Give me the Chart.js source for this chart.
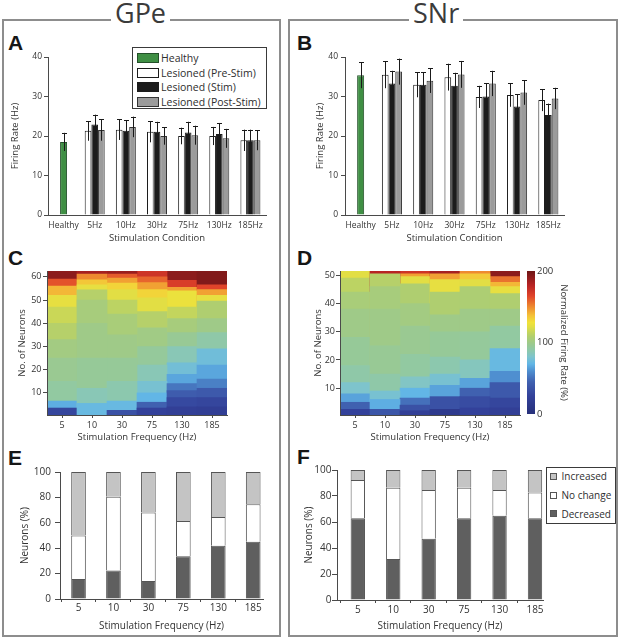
<!DOCTYPE html>
<html>
<head>
<meta charset="utf-8">
<title>GPe / SNr firing rates</title>
<script src="https://cdn.jsdelivr.net/npm/chart.js@4.4.1/dist/chart.umd.min.js"></script>
<style>
  html,body{margin:0;padding:0;background:#fff;}
  body{position:relative;width:619px;height:639px;overflow:hidden;font-family:"Open Sans",sans-serif;color:#333;}
  .frame{position:absolute;border:2px solid #8d8d8d;box-sizing:border-box;}
  .ttl{position:absolute;font-size:27px;line-height:1;background:#fff;padding:0 4px;color:#3b3b3b;white-space:nowrap;}
  .let{position:absolute;font-family:"Liberation Sans",Arial,sans-serif;font-weight:bold;font-size:21px;line-height:1;color:#161616;}
  canvas{position:absolute;}
  .lg{position:absolute;border:1px solid #3a3a3a;background:#fff;box-sizing:border-box;color:#2e2e2e;}
  .lg .row{position:absolute;left:0;right:0;white-space:nowrap;}
  .lg .sw{position:absolute;box-sizing:border-box;}
  .lg .tx{position:absolute;}
</style>
</head>
<body>
<div class="frame" style="left:2px;top:19px;width:279px;height:618px"></div>
<div class="frame" style="left:288px;top:19px;width:330px;height:618px"></div>
<div class="ttl" style="left:111px;top:-1px">GPe</div>
<div class="ttl" style="left:409px;top:-1px">SNr</div>
<div class="let" style="left:8px;top:32px">A</div>
<div class="let" style="left:297px;top:32px">B</div>
<div class="let" style="left:8px;top:247px">C</div>
<div class="let" style="left:297px;top:247px">D</div>
<div class="let" style="left:8px;top:447px">E</div>
<div class="let" style="left:297px;top:446px">F</div>
<div class="lg" id="legA" style="left:132px;top:47px;width:135px;height:62px;font-size:10.5px"></div>
<div class="lg" id="legF" style="left:546px;top:467px;width:70px;height:57px;font-size:10px"></div>

<script>
// ---------------- DATA ----------------
const conditions = ['Healthy', '5Hz', '10Hz', '30Hz', '75Hz', '130Hz', '185Hz'];
const seriesNames = ['Healthy', 'Lesioned (Pre-Stim)', 'Lesioned (Stim)', 'Lesioned (Post-Stim)'];
const rateTicks = [0, 10, 20, 30, 40];

// GPe firing rate (Hz), mean and error, stimulation groups 5..185 Hz
const gpeHealthy = 18.5, gpeHealthyErr = 2.3;
const gpePre = [21.3, 21.6, 21.1, 20.0, 20.0, 18.9];
const gpePreErr = [2.5, 2.6, 2.7, 2.1, 2.3, 2.7];
const gpeStim = [22.9, 21.3, 21.1, 20.9, 20.5, 18.9];
const gpeStimErr = [2.5, 2.7, 2.5, 2.7, 2.8, 2.7];
const gpePost = [21.5, 22.3, 20.0, 20.2, 19.4, 18.9];
const gpePostErr = [2.7, 2.6, 2.2, 2.4, 2.4, 2.5];

// SNr firing rate (Hz)
const snrHealthy = 35.4, snrHealthyErr = 3.3;
const snrPre = [35.5, 33.0, 34.9, 29.9, 30.4, 29.1];
const snrPreErr = [3.4, 3.2, 3.4, 2.8, 3.0, 2.8];
const snrStim = [33.3, 33.0, 32.7, 30.0, 27.5, 25.3];
const snrStimErr = [3.2, 3.2, 3.3, 3.4, 3.1, 2.9];
const snrPost = [36.3, 34.0, 35.6, 33.3, 31.0, 29.5];
const snrPostErr = [3.3, 3.1, 3.4, 3.2, 3.1, 2.7];

// Heat maps: sorted neurons, bands (upper neuron edge) and normalized firing rate (%) per band
const freqLabels = ['5', '10', '30', '75', '130', '185'];
const gpeNeuronTicks = [10, 20, 30, 40, 50, 60];
const snrNeuronTicks = [10, 20, 30, 40, 50];
const normTicks = [0, 100, 200];

const gpeBandTops = [
  [3.5, 6.5, 15, 25, 33, 40, 47, 52, 56, 59, 62.5],
  [5.5, 12, 25, 40, 50, 54.4, 56.5, 58.7, 61.2, 62.5],
  [2.5, 6.5, 15, 25, 35, 44, 50, 54.5, 57.3, 59.4, 61.2, 62.5],
  [3.5, 6, 10, 15, 22, 30, 38, 45, 51, 54.5, 57.5, 60, 62.5],
  [4, 8, 11, 14, 18, 23, 30, 36, 42, 47, 54, 55.5, 58.5, 62.5],
  [4, 8, 12, 16, 22, 29, 36, 42, 49.5, 52, 54.5, 56.5, 62.5]
];
const gpeBandRates = [
  [28, 68, 92, 97, 102, 110, 116, 124, 140, 162, 192],
  [72, 86, 95, 100, 104, 110, 124, 136, 150, 185],
  [35, 72, 88, 95, 100, 105, 112, 122, 132, 145, 160, 188],
  [25, 45, 70, 78, 86, 94, 101, 110, 122, 132, 145, 158, 172],
  [22, 30, 42, 52, 66, 76, 86, 96, 104, 114, 126, 145, 168, 192],
  [20, 28, 40, 55, 66, 75, 90, 100, 108, 124, 145, 165, 195]
];
const snrBandTops = [
  [2.5, 5, 8, 12, 18, 28, 38, 44, 49, 51.5],
  [2.5, 6, 9, 15, 25, 38, 46, 50.5, 51.5],
  [2, 4, 6.5, 10, 14, 22, 32, 40, 47, 49.5, 50.5, 51.5],
  [2.5, 7, 11, 15, 21, 30, 36, 44, 48.5, 50.5, 51.5],
  [3, 7, 10, 13.5, 20, 30, 38, 46, 48.5, 50.5, 51.5],
  [3, 6.5, 12, 16, 24, 32, 38, 43.5, 46, 47.5, 49.5, 51.5]
];
const snrBandRates = [
  [25, 45, 65, 80, 90, 95, 100, 105, 112, 122],
  [38, 68, 78, 90, 96, 100, 104, 110, 180],
  [22, 35, 50, 70, 82, 92, 97, 102, 108, 122, 145, 172],
  [15, 35, 65, 78, 88, 95, 100, 108, 124, 145, 185],
  [25, 32, 45, 65, 84, 94, 100, 107, 122, 135, 150],
  [22, 28, 40, 60, 72, 92, 100, 108, 124, 140, 155, 192]
];

// Percent of neurons per response class
const responseNames = ['Increased', 'No change', 'Decreased'];
const percentTicks = [0, 20, 40, 60, 80, 100];
const gpeDecreased = [15.8, 22.5, 14.2, 33.7, 42.0, 45.1];
const gpeNoChange = [34.2, 58.1, 53.9, 27.7, 22.5, 29.5];
const gpeIncreased = [50.0, 19.4, 31.9, 38.6, 35.5, 25.4];
const snrDecreased = [62.8, 31.5, 47.2, 62.8, 64.9, 62.8];
const snrNoChange = [29.5, 54.9, 37.4, 23.6, 19.7, 19.8];
const snrIncreased = [7.7, 13.6, 15.4, 13.6, 15.4, 17.4];

// ---------------- STYLE ----------------
const AX = '#4a4a4a';
const TXT = '#333';
const seriesFill = ['#3f8f44', '#ffffff', '#1c1c1c', '#9b9b9b'];
const seriesEdge = ['#24502a', '#1c1c1c', '#1c1c1c', '#333333'];
const responseFill = ['#c4c4c4', '#ffffff', '#5f5f5f'];
const cmapStops = [0, 25, 45, 60, 70, 80, 88, 95, 100, 108, 115, 122, 128, 138, 150, 165, 180, 200];
const cmapColors = ['#27307a', '#33419a', '#4061b0', '#4f8fd0', '#62b6e6', '#7ec4cc', '#8cc8ae', '#96c998', '#9fca88',
  '#afce70', '#c6d65a', '#e2de44', '#f0e23a', '#f4c038', '#ee8a30', '#e0442a', '#b82424', '#6e1616'];

function hex2rgb(h) { return [parseInt(h.slice(1, 3), 16), parseInt(h.slice(3, 5), 16), parseInt(h.slice(5, 7), 16)]; }
function rateColor(v) {
  v = Math.max(0, Math.min(200, v));
  for (let i = 0; i < cmapStops.length - 1; i++) {
    if (v <= cmapStops[i + 1]) {
      const t = (v - cmapStops[i]) / (cmapStops[i + 1] - cmapStops[i]);
      const a = hex2rgb(cmapColors[i]), b = hex2rgb(cmapColors[i + 1]);
      return 'rgb(' + a.map((x, k) => Math.round(x + (b[k] - x) * t)).join(',') + ')';
    }
  }
  return cmapColors[cmapColors.length - 1];
}

Chart.defaults.font.family = '"Open Sans", sans-serif';
Chart.defaults.color = TXT;
Chart.defaults.animation = false;
Chart.defaults.responsive = false;
Chart.defaults.maintainAspectRatio = false;
Chart.defaults.plugins.legend.display = false;
Chart.defaults.plugins.tooltip.enabled = false;

function mkCanvas(left, top, w, h) {
  const c = document.createElement('canvas');
  c.width = w; c.height = h;
  c.style.left = left + 'px'; c.style.top = top + 'px';
  c.style.width = w + 'px'; c.style.height = h + 'px';
  document.body.appendChild(c);
  return c;
}

function yLin(o) {
  return {
    type: 'linear', position: o.position || 'left', min: o.min, max: o.max, stacked: !!o.stacked,
    afterBuildTicks: s => { s.ticks = o.ticks.map(v => ({ value: v })); },
    afterFit: s => { s.width = o.width; },
    border: { display: o.border !== false, color: AX, width: 1, z: 1 },
    grid: { display: true, drawOnChartArea: false, drawTicks: o.tl > 0, tickLength: o.tl, color: AX },
    ticks: { padding: o.pad, color: TXT, font: { size: o.fs } },
    title: { display: true, text: o.title, color: TXT, font: { size: o.tfs }, padding: { top: o.tpad, bottom: 0 } }
  };
}
function xCat(o) {
  return {
    type: 'category', position: 'bottom', offset: true,
    afterFit: s => { s.height = o.height; },
    border: { display: true, color: AX, width: 1, z: 1 },
    grid: { display: true, drawOnChartArea: false, drawTicks: o.tl > 0, tickLength: o.tl, color: AX, offset: false },
    ticks: { padding: o.pad, color: TXT, font: { size: o.fs }, maxRotation: 0, autoSkip: false },
    title: { display: true, text: o.title, color: TXT, font: { size: o.tfs }, padding: { top: 0, bottom: o.tpad } }
  };
}

// error bar plugin (uses the chart's own y scale and bar elements)
const errorBars = {
  id: 'errorBars',
  afterDatasetsDraw(chart) {
    const { ctx } = chart; const ys = chart.scales.y;
    chart.data.datasets.forEach((ds, di) => {
      const meta = chart.getDatasetMeta(di);
      meta.data.forEach((bar, i) => {
        const v = ds.data[i], e = ds.errors ? ds.errors[i] : null;
        if (v == null || e == null) return;
        const x = Math.round(bar.x) + 0.5;
        const top = ys.getPixelForValue(v + e), bot = ys.getPixelForValue(v - e);
        ctx.save();
        ctx.strokeStyle = '#1a1a1a'; ctx.lineWidth = 1;
        ctx.beginPath();
        ctx.moveTo(x, bot); ctx.lineTo(x, top);
        ctx.moveTo(x - 2.5, Math.round(top) + 0.5); ctx.lineTo(x + 2.5, Math.round(top) + 0.5);
        ctx.stroke(); ctx.restore();
      });
    });
  }
};

function rateChart(geom, healthy, healthyErr, pre, preErr, stim, stimErr, post, postErr) {
  const c = mkCanvas(geom.left, geom.top, geom.w, geom.h);
  const series = [
    { v: [healthy, null, null, null, null, null, null], e: [healthyErr, null, null, null, null, null, null] },
    { v: [null].concat(pre), e: [null].concat(preErr) },
    { v: [null].concat(stim), e: [null].concat(stimErr) },
    { v: [null].concat(post), e: [null].concat(postErr) }
  ];
  return new Chart(c, {
    type: 'bar',
    data: {
      labels: conditions,
      datasets: series.map((s, i) => ({
        label: seriesNames[i], data: s.v, errors: s.e,
        backgroundColor: seriesFill[i], borderColor: seriesEdge[i], borderWidth: 1, borderSkipped: 'start',
        skipNull: true, categoryPercentage: 0.642, barPercentage: i === 0 ? 0.35 : 1
      }))
    },
    options: {
      layout: { padding: geom.padding },
      scales: {
        x: xCat({ height: geom.xh, tl: 0, pad: 5.5, fs: 8.5, title: 'Stimulation Condition', tfs: 9.5, tpad: 4 }),
        y: yLin({ min: 0, max: 40, ticks: rateTicks, width: geom.yw, tl: 4, pad: geom.ypad, fs: 8.5,
          title: 'Firing Rate (Hz)', tfs: 9.5, tpad: geom.ytpad })
      }
    },
    plugins: [errorBars]
  });
}

function heatChart(geom, tops, rates, yMax, yTicks) {
  const c = mkCanvas(geom.left, geom.top, geom.w, geom.h);
  const yMin = 0.5;
  const nb = Math.max(...tops.map(t => t.length));
  const datasets = [];
  for (let k = 0; k < nb; k++) {
    datasets.push({
      data: tops.map(t => (k < t.length ? [yMin, t[k]] : null)),
      backgroundColor: rates.map(r => (k < r.length ? rateColor(r[k]) : 'rgba(0,0,0,0)')),
      borderWidth: 0, grouped: false, barPercentage: 1, categoryPercentage: 1
    });
  }
  return new Chart(c, {
    type: 'bar',
    data: { labels: freqLabels, datasets },
    options: {
      layout: { padding: geom.padding },
      scales: {
        x: xCat({ height: geom.xh, tl: 3, pad: 2.5, fs: 9, title: 'Stimulation Frequency (Hz)', tfs: 9.5, tpad: geom.xtpad }),
        y: yLin({ min: yMin, max: yMax, ticks: yTicks, width: geom.yw, tl: 4, pad: geom.ypad, fs: 9,
          title: 'No. of Neurons', tfs: 9.5, tpad: geom.ytpad })
      }
    }
  });
}

function colorbarChart(geom) {
  const c = mkCanvas(geom.left, geom.top, geom.w, geom.h);
  const gradientFill = {
    id: 'gradientFill',
    beforeDatasetsDraw(chart) {
      const { ctx, chartArea: a } = chart; const ys = chart.scales.y;
      const g = ctx.createLinearGradient(0, ys.getPixelForValue(0), 0, ys.getPixelForValue(200));
      cmapStops.forEach((s, i) => g.addColorStop(s / 200, cmapColors[i]));
      ctx.save(); ctx.fillStyle = g; ctx.fillRect(a.left, a.top, a.right - a.left, a.bottom - a.top); ctx.restore();
    }
  };
  return new Chart(c, {
    type: 'bar',
    data: { labels: [''], datasets: [] },
    options: {
      layout: { padding: geom.padding },
      scales: {
        x: { display: false },
        y: yLin({ position: 'right', min: 0, max: 200, ticks: normTicks, width: geom.yw, tl: 0, pad: 2,
          fs: 9.5, title: 'Normalized Firing Rate (%)', tfs: 9.5, tpad: 2, border: false })
      }
    },
    plugins: [gradientFill]
  });
}

function percentChart(geom, dec, nc, inc) {
  const c = mkCanvas(geom.left, geom.top, geom.w, geom.h);
  const vals = [inc, nc, dec];
  const order = [2, 1, 0]; // stack from bottom: decreased, no change, increased
  return new Chart(c, {
    type: 'bar',
    data: {
      datasets: order.map(k => ({
        label: responseNames[k],
        data: vals[k].map((v, i) => ({ x: i, y: v })),
        backgroundColor: responseFill[k], borderColor: '#555', borderWidth: 1, borderSkipped: 'start',
        categoryPercentage: geom.barFrac, barPercentage: 1
      }))
    },
    options: {
      layout: { padding: geom.padding },
      scales: {
        x: {
          type: 'linear', position: 'bottom', min: geom.xmin, max: geom.xmax, stacked: true, offset: false,
          afterBuildTicks: s => { s.ticks = freqLabels.map((_, i) => ({ value: i })); },
          afterFit: s => { s.height = geom.xh; },
          border: { display: true, color: AX, width: 1, z: 1 },
          grid: { display: true, drawOnChartArea: false, drawTicks: true, tickLength: 3, color: AX },
          ticks: { padding: geom.xpad, color: TXT, font: { size: 10 }, maxRotation: 0, autoSkip: false,
            callback: v => freqLabels[v] },
          title: { display: true, text: 'Stimulation Frequency (Hz)', color: TXT, font: { size: 10 },
            padding: { top: 0, bottom: 5 } }
        },
        y: yLin({ min: 0, max: 100, ticks: percentTicks, width: geom.yw, tl: 5, pad: geom.ypad, fs: 10,
          title: 'Neurons (%)', tfs: 10, tpad: geom.ytpad, stacked: true })
      }
    }
  });
}

// ---------------- PANELS ----------------
rateChart({ left: 0, top: 48, w: 272, h: 200, padding: { left: 0, top: 9, right: 6, bottom: 0 }, xh: 33, yw: 48, ypad: 2, ytpad: 9.3 },
  gpeHealthy, gpeHealthyErr, gpePre, gpePreErr, gpeStim, gpeStimErr, gpePost, gpePostErr);
rateChart({ left: 300, top: 48, w: 270, h: 200, padding: { left: 0, top: 9, right: 6, bottom: 0 }, xh: 33, yw: 45, ypad: 3, ytpad: 14.3 },
  snrHealthy, snrHealthyErr, snrPre, snrPreErr, snrStim, snrStimErr, snrPost, snrPostErr);

heatChart({ left: 0, top: 262, w: 233, h: 182, padding: { left: 0, top: 9, right: 6, bottom: 0 }, xh: 29, yw: 47, ypad: 1.5, ytpad: 17, xtpad: 1.5 },
  gpeBandTops, gpeBandRates, 62.5, gpeNeuronTicks);
heatChart({ left: 300, top: 262, w: 226, h: 182, padding: { left: 0, top: 9, right: 6, bottom: 0 }, xh: 29, yw: 40, ypad: 1, ytpad: 12.3, xtpad: 1.5 },
  snrBandTops, snrBandRates, 51.5, snrNeuronTicks);
colorbarChart({ left: 527, top: 262, w: 44, h: 160, padding: { left: 0, top: 9, right: 0, bottom: 8 }, yw: 36 });

percentChart({ left: 0, top: 462, w: 272, h: 175, padding: { left: 0, top: 9, right: 9, bottom: 0 }, xh: 38, yw: 60,
  ypad: 4, ytpad: 19, xpad: 0.5, xmin: -0.53, xmax: 5.28, barFrac: 0.42 }, gpeDecreased, gpeNoChange, gpeIncreased);
percentChart({ left: 300, top: 462, w: 250, h: 175, padding: { left: 0, top: 8, right: 7, bottom: 0 }, xh: 37, yw: 37,
  ypad: 0.5, ytpad: 3, xpad: 1.5, xmin: -0.587, xmax: 5.226, barFrac: 0.405 }, snrDecreased, snrNoChange, snrIncreased);

// ---------------- LEGENDS (HTML, real text) ----------------
(function () {
  const a = document.getElementById('legA');
  seriesNames.forEach((name, i) => {
    const row = document.createElement('div'); row.className = 'row';
    row.style.top = (3 + i * 14.5) + 'px'; row.style.height = '14.5px'; row.style.lineHeight = '14.5px';
    const sw = document.createElement('span'); sw.className = 'sw';
    Object.assign(sw.style, { left: '3.5px', top: '2.25px', width: '22px', height: '10px', background: seriesFill[i], border: '1px solid ' + seriesEdge[i] });
    const tx = document.createElement('span'); tx.className = 'tx'; tx.style.left = '28px'; tx.textContent = name;
    row.appendChild(sw); row.appendChild(tx); a.appendChild(row);
  });
  const f = document.getElementById('legF');
  responseNames.forEach((name, i) => {
    const row = document.createElement('div'); row.className = 'row';
    row.style.top = (-0.6 + i * 18.6) + 'px'; row.style.height = '18.6px'; row.style.lineHeight = '18.6px';
    const sw = document.createElement('span'); sw.className = 'sw';
    Object.assign(sw.style, { left: '3px', top: '5.8px', width: '7px', height: '7px', background: responseFill[i], border: '1px solid #555' });
    const tx = document.createElement('span'); tx.className = 'tx'; tx.style.left = '14.5px'; tx.textContent = name;
    row.appendChild(sw); row.appendChild(tx); f.appendChild(row);
  });
})();
</script>
</body>
</html>
